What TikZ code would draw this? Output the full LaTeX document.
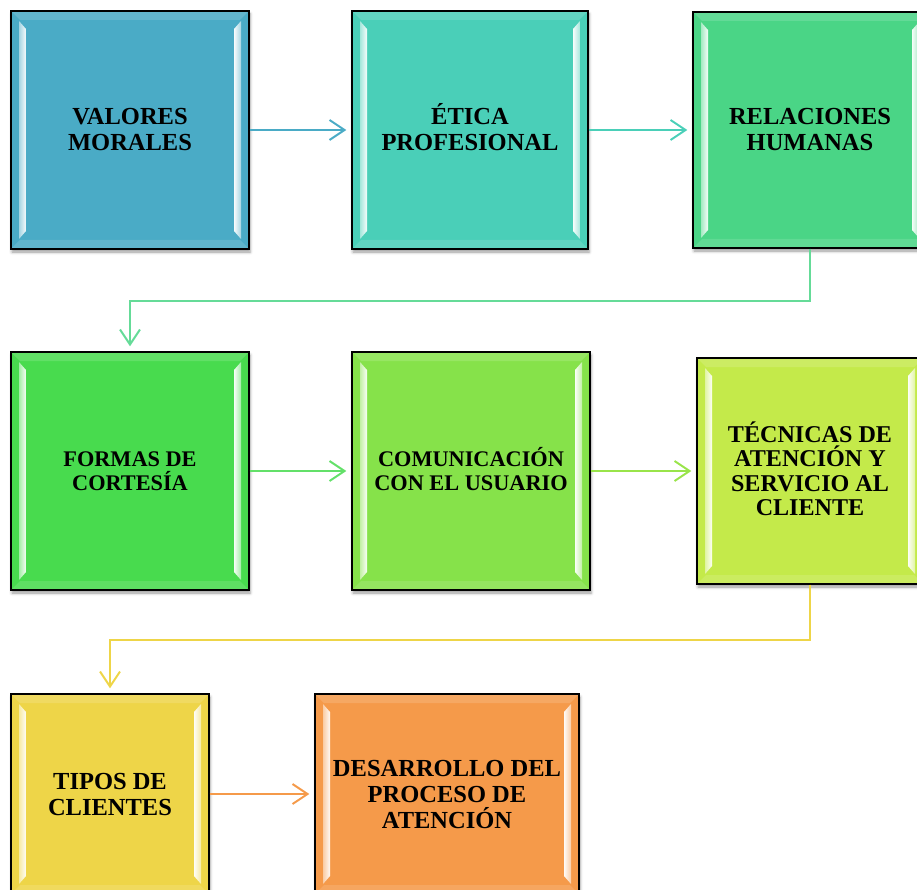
\documentclass[tikz,border=0pt]{standalone}
\usepackage{fontspec}
\setmainfont{Liberation Serif}
\usetikzlibrary{arrows.meta,calc,shadows.blur}

\definecolor{cA}{HTML}{4AABC6}
\definecolor{cB}{HTML}{4ACFB8}
\definecolor{cC}{HTML}{4AD586}
\definecolor{cD}{HTML}{48DB4E}
\definecolor{cE}{HTML}{86E24A}
\definecolor{cF}{HTML}{C4EA4A}
\definecolor{cG}{HTML}{EED548}
\definecolor{cH}{HTML}{F59A4A}

\tikzset{
  bevelbox/.style={
    draw=black, line width=1.3pt, fill=#1, inner sep=0pt, align=center,
    font=\bfseries\fontsize{24.5}{26}\selectfont,
    blur shadow={shadow xshift=1pt, shadow yshift=-3pt, shadow blur radius=3pt, shadow opacity=40},
    path picture={
      % top and bottom chisel bands
      \fill[white, opacity=0.14]
        (path picture bounding box.north west) -- (path picture bounding box.north east)
        -- ($(path picture bounding box.north east)+(-9,9)$)
        -- ($(path picture bounding box.north west)+(9,9)$) -- cycle;
      \fill[white, opacity=0.12]
        (path picture bounding box.south west) -- (path picture bounding box.south east)
        -- ($(path picture bounding box.south east)+(-9,-9)$)
        -- ($(path picture bounding box.south west)+(9,-9)$) -- cycle;
      % left highlight strip
      \shade[left color=#1!50!white, right color=#1!5!white]
        ($(path picture bounding box.north west)+(8,10)$)
        -- ($(path picture bounding box.north west)+(15,18)$)
        -- ($(path picture bounding box.south west)+(15,-18)$)
        -- ($(path picture bounding box.south west)+(8,-10)$) -- cycle;
      % right highlight strip
      \shade[left color=#1!5!white, right color=#1!50!white]
        ($(path picture bounding box.north east)+(-15,18)$)
        -- ($(path picture bounding box.north east)+(-8,10)$)
        -- ($(path picture bounding box.south east)+(-8,-10)$)
        -- ($(path picture bounding box.south east)+(-15,-18)$) -- cycle;
    }
  },
  smalltext/.style={font=\bfseries\fontsize{22.3}{24}\selectfont},
  conn/.style={draw=#1, line width=2pt, shorten >=5pt,
    -{Straight Barb[length=15pt, width=20pt]}},
}

\begin{document}
\begin{tikzpicture}[x=1pt, y=-1pt]
\useasboundingbox (0,0) rectangle (917,890);
\clip (0,0) rectangle (917,890);

% first row
\node[bevelbox=cA, minimum width=238pt, minimum height=238pt] (vm) at (130,130) {VALORES\\MORALES};
\node[bevelbox=cB, minimum width=236pt, minimum height=238pt] (ep) at (470,130) {\smash{É}TICA\\PROFESIONAL};
\node[bevelbox=cC, minimum width=234pt, minimum height=236pt] (rh) at (810,130) {RELACIONES\\HUMANAS};

% second row
\node[bevelbox=cD, smalltext, minimum width=238pt, minimum height=238pt] (fc) at (130,471) {FORMAS DE\\CORTESÍA};
\node[bevelbox=cE, smalltext, minimum width=238pt, minimum height=238pt] (cu) at (471,471) {COMUNICACI\smash{Ó}N\\CON EL USUARIO};
\node[bevelbox=cF, font=\bfseries\fontsize{24.1}{24.5}\selectfont, minimum width=226pt, minimum height=226pt] (ta) at (810,471) {T\smash{É}CNICAS DE\\ATENCIÓN Y\\SERVICIO AL\\CLIENTE};

% third row
\node[bevelbox=cG, minimum width=198pt, minimum height=200pt] (tc) at (110,794) {TIPOS DE\\CLIENTES};
\node[bevelbox=cH, minimum width=264pt, minimum height=200pt] (dp) at (447,794) {DESARROLLO DEL\\PROCESO DE\\ATENCIÓN};

% connectors
\draw[conn=cA] (vm) -- (ep);
\draw[conn=cB] (ep) -- (rh);
\draw[conn=cC!85!white] (rh.south) -- ++(0,52) -| (fc.north);
\draw[conn=cD!85!white] (fc) -- (cu);
\draw[conn=cE!70!cF] (cu) -- (ta.west |- cu);
\draw[conn=cG] (ta.south) -- ++(0,55) -| (tc.north);
\draw[conn=cH] (tc) -- (dp);
\end{tikzpicture}
\end{document}
